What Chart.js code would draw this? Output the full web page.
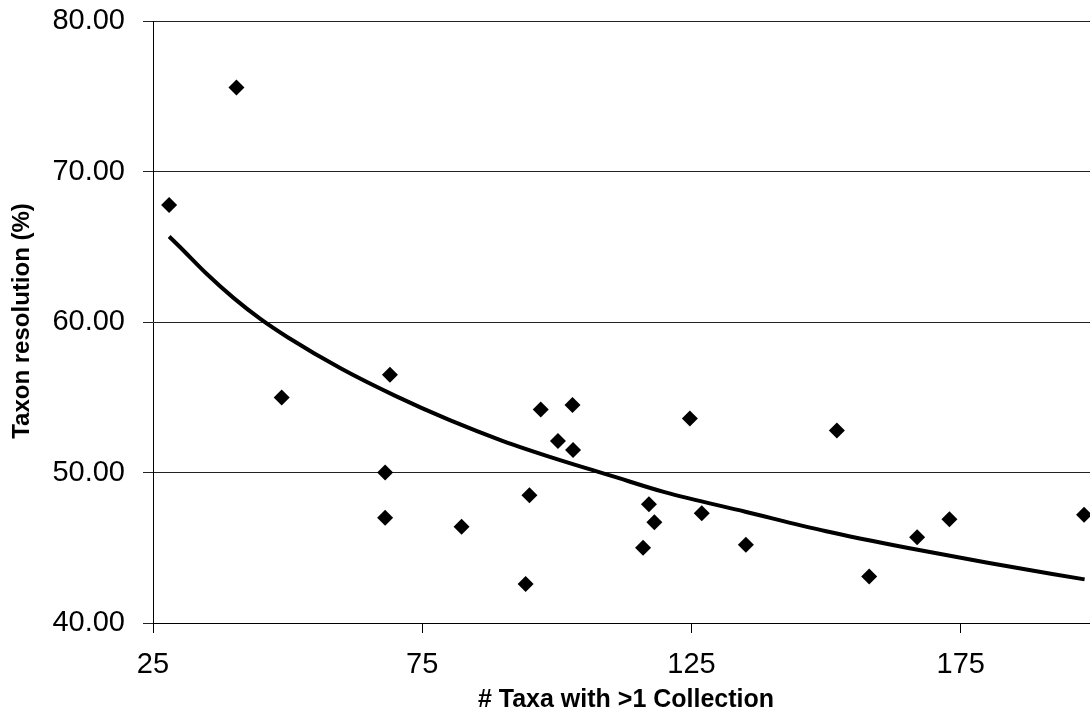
<!DOCTYPE html>
<html>
<head>
<meta charset="utf-8">
<script src="https://cdn.jsdelivr.net/npm/chart.js@4.4.0/dist/chart.umd.min.js"></script>
<style>
  html, body { margin: 0; padding: 0; background: #fff; overflow: hidden; }
  #clip { width: 1090px; height: 715px; overflow: hidden; position: relative; }
  #wrap { width: 1098px; height: 729px; position: absolute; left: 0; top: -14px; }
</style>
</head>
<body>
<div id="clip"><div id="wrap"><canvas id="chart"></canvas></div></div>
<script>
// scatter points
const taxaCounts = [28.0, 40.5, 48.9, 69.0, 68.1, 68.1, 82.3, 94.2, 94.9, 97.0, 100.2, 102.9, 103.0, 116.0, 117.1, 118.1, 124.7, 126.9, 135.1, 152.0, 158.0, 166.9, 172.9, 197.9]
const resolution = [67.8, 75.6, 55.0, 56.5, 50.0, 47.0, 46.4, 42.6, 48.5, 54.2, 52.1, 54.5, 51.5, 45.0, 47.9, 46.7, 53.6, 47.3, 45.2, 52.8, 43.1, 45.7, 46.9, 47.2]

// trend line at some x positions
const trendX = [28, 30, 35, 40, 45, 50, 60, 70, 80, 90, 100, 110, 120, 135, 150, 165, 180, 198]
const trendY = [65.7, 65.0, 63.2, 61.6, 60.2, 59.0, 56.9, 55.1, 53.5, 52.1, 50.9, 49.8, 48.7, 47.4, 46.1, 45.0, 44.0, 42.9]

const xTicks = [25, 75, 125, 175]
const yTicks = [40, 50, 60, 70, 80]

const xTitle = '# Taxa with >1 Collection'
const yTitle = 'Taxon resolution (%)'

const pointsData = []
for (let i = 0; i < taxaCounts.length; i++) {
  pointsData.push({ x: taxaCounts[i], y: resolution[i] })
}

const trendData = []
for (let i = 0; i < trendX.length; i++) {
  trendData.push({ x: trendX[i], y: trendY[i] })
}

// canvas is shifted up 14px inside the page, titles are placed in canvas coords
const axisTitles = {
  id: 'axisTitles',
  afterDraw(chart) {
    const ctx = chart.ctx
    ctx.save()
    ctx.fillStyle = '#000'
    ctx.textAlign = 'center'
    ctx.textBaseline = 'middle'
    ctx.font = 'bold 25px "Liberation Sans", Arial, sans-serif'
    ctx.fillText(xTitle, 626, 714)
    ctx.translate(22, 335)
    ctx.rotate(-Math.PI / 2)
    ctx.font = 'bold 24px "Liberation Sans", Arial, sans-serif'
    ctx.fillText(yTitle, 0, 0)
    ctx.restore()
  }
}

const ctx = document.getElementById('chart')

new Chart(ctx, {
  type: 'scatter',
  data: {
    datasets: [{
      label: 'Taxon resolution',
      data: pointsData,
      pointStyle: 'rectRot',
      pointRadius: 8,
      pointBackgroundColor: '#000',
      pointBorderColor: '#000',
      pointBorderWidth: 0,
      showLine: false,
      clip: false,
      order: 1
    }, {
      type: 'line',
      label: 'Trend',
      data: trendData,
      borderColor: '#000',
      borderWidth: 4,
      pointRadius: 0,
      fill: false,
      cubicInterpolationMode: 'monotone',
      order: 2
    }]
  },
  options: {
    responsive: true,
    maintainAspectRatio: false,
    animation: false,
    layout: { padding: { top: 7, right: 0, left: 0, bottom: 0 } },
    plugins: {
      legend: { display: false },
      tooltip: { enabled: false }
    },
    scales: {
      x: {
        type: 'linear',
        min: 25,
        max: 199,
        afterBuildTicks: (s) => { s.ticks = xTicks.map(v => ({ value: v })) },
        afterFit: (s) => { s.height = 92 },
        border: { display: true, color: '#000', width: 1 },
        grid: { drawOnChartArea: false, drawTicks: true, tickLength: 10, color: '#000' },
        ticks: {
          padding: 15,
          color: '#000',
          font: { family: '"Liberation Sans", Arial, sans-serif', size: 29 },
          maxRotation: 0
        }
      },
      y: {
        min: 40,
        max: 80,
        afterBuildTicks: (s) => { s.ticks = yTicks.map(v => ({ value: v })) },
        afterFit: (s) => { s.width = 153 },
        border: { display: true, color: '#000', width: 1 },
        grid: { color: '#222', lineWidth: 1, tickLength: 10 },
        ticks: {
          padding: 18,
          color: '#000',
          font: { family: '"Liberation Sans", Arial, sans-serif', size: 29 },
          callback: (v) => Number(v).toFixed(2)
        }
      }
    }
  },
  plugins: [axisTitles]
});
</script>
</body>
</html>
